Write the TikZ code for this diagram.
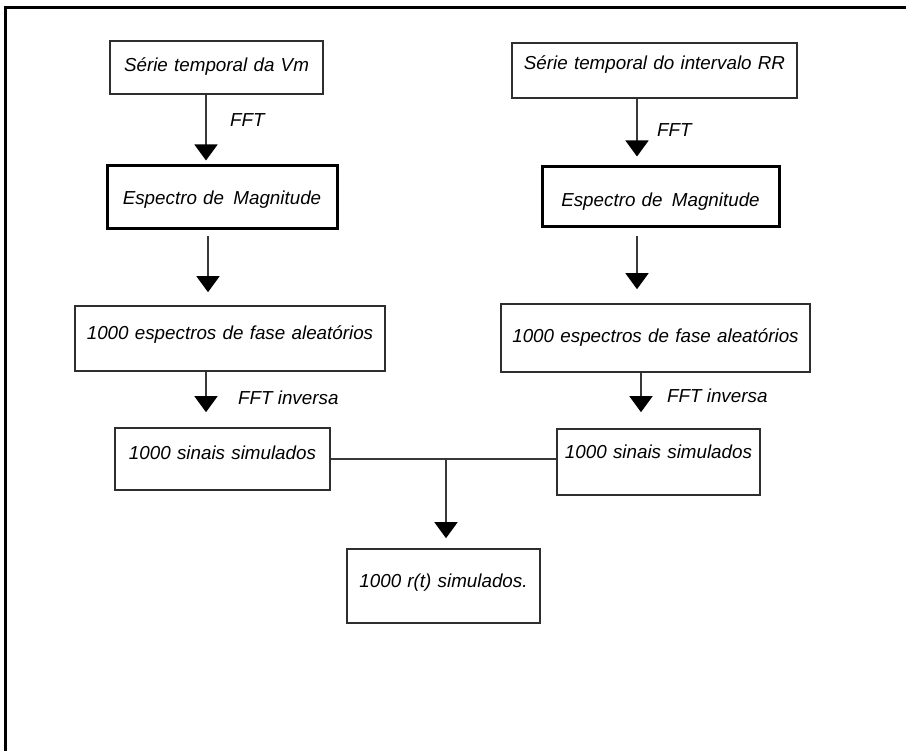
\documentclass[tikz,border=0pt]{standalone}
\usepackage{fontspec}
\setmainfont{Liberation Sans}
\usetikzlibrary{arrows.meta}
\definecolor{boxgray}{gray}{0.18}
\definecolor{linegray}{gray}{0.22}
\begin{document}
\begin{tikzpicture}[x=1pt,y=-1pt,
  txt/.style={font=\fontsize{18.8}{22}\selectfont\itshape},
  box/.style={txt, draw=boxgray, line width=1.6pt, inner sep=0pt, align=center},
  thickbox/.style={box, draw=black, line width=3pt},
  conn/.style={draw=linegray, line width=1.5pt},
  arr/.style={conn, -{Triangle[width=23pt,length=16pt,color=black]}},
  lbl/.style={txt, inner sep=0pt, anchor=base west}]
\useasboundingbox (0,0) rectangle (906,751);
% frame
\draw[line width=3pt] (5.5,751) -- (5.5,7.5) -- (906,7.5);
% left column
\node[box, text width=213pt, text height=31pt, text depth=22pt] (b1) at (216.5,67.5) {Série temporal da Vm};
\node[thickbox, text width=230pt, text height=39pt, text depth=24pt] (b2) at (222,197.5) {Espectro de\hspace{3pt} Magnitude};
\node[box, text width=310pt, text height=34pt, text depth=31pt] (b3) at (230,338.5) {1000 espectros de fase aleatórios};
\node[box, text width=215pt, text height=32pt, text depth=30pt] (b4) at (222.5,459) {1000 sinais simulados};
% right column
\node[box, text width=285pt, text height=27pt, text depth=28pt] (b5) at (654.5,70.5) {Série temporal do intervalo RR};
\node[thickbox, text width=237pt, text height=40pt, text depth=20pt] (b6) at (660.5,197) {Espectro de\hspace{3pt} Magnitude};
\node[box, text width=309pt, text height=39pt, text depth=29pt] (b7) at (655.5,338) {1000 espectros de fase aleatórios};
\node[box, text width=203pt, text height=30pt, text depth=36pt] (b8) at (658.5,462) {1000 sinais simulados};
% bottom
\node[box, text width=193pt, text height=38pt, text depth=36pt] (b9) at (443.5,586) {1000 r(t) simulados.};
% labels
\node[lbl] (l1) at (230,127) {FFT};
\node[lbl] (l2) at (657,137) {FFT};
\node[lbl] (l3) at (238,405) {FFT inversa};
\node[lbl] (l4) at (667,403) {FFT inversa};
% arrow x positions
\coordinate (xa) at (206,0);
\coordinate (xb) at (208,0);
\coordinate (xc) at (637,0);
\coordinate (xd) at (641,0);
\coordinate (j) at (446,459);
% connectors
\draw[arr, shorten >=4pt] (b1.south -| xa) -- (b2.north -| xa);
\draw[arr, shorten <=6pt, shorten >=13pt] (b2.south -| xb) -- (b3.north -| xb);
\draw[arr, shorten >=15pt] (b3.south -| xa) -- (b4.north -| xa);
\draw[arr, shorten >=9pt] (b5.south -| xc) -- (b6.north -| xc);
\draw[arr, shorten <=8pt, shorten >=14pt] (b6.south -| xc) -- (b7.north -| xc);
\draw[arr, shorten >=16pt] (b7.south -| xd) -- (b8.north -| xd);
\draw[conn] (b4.east) -- (b8.west |- b4.east);
\draw[arr, shorten >=10pt] (j) -- (b9.north -| j);
\end{tikzpicture}
\end{document}
